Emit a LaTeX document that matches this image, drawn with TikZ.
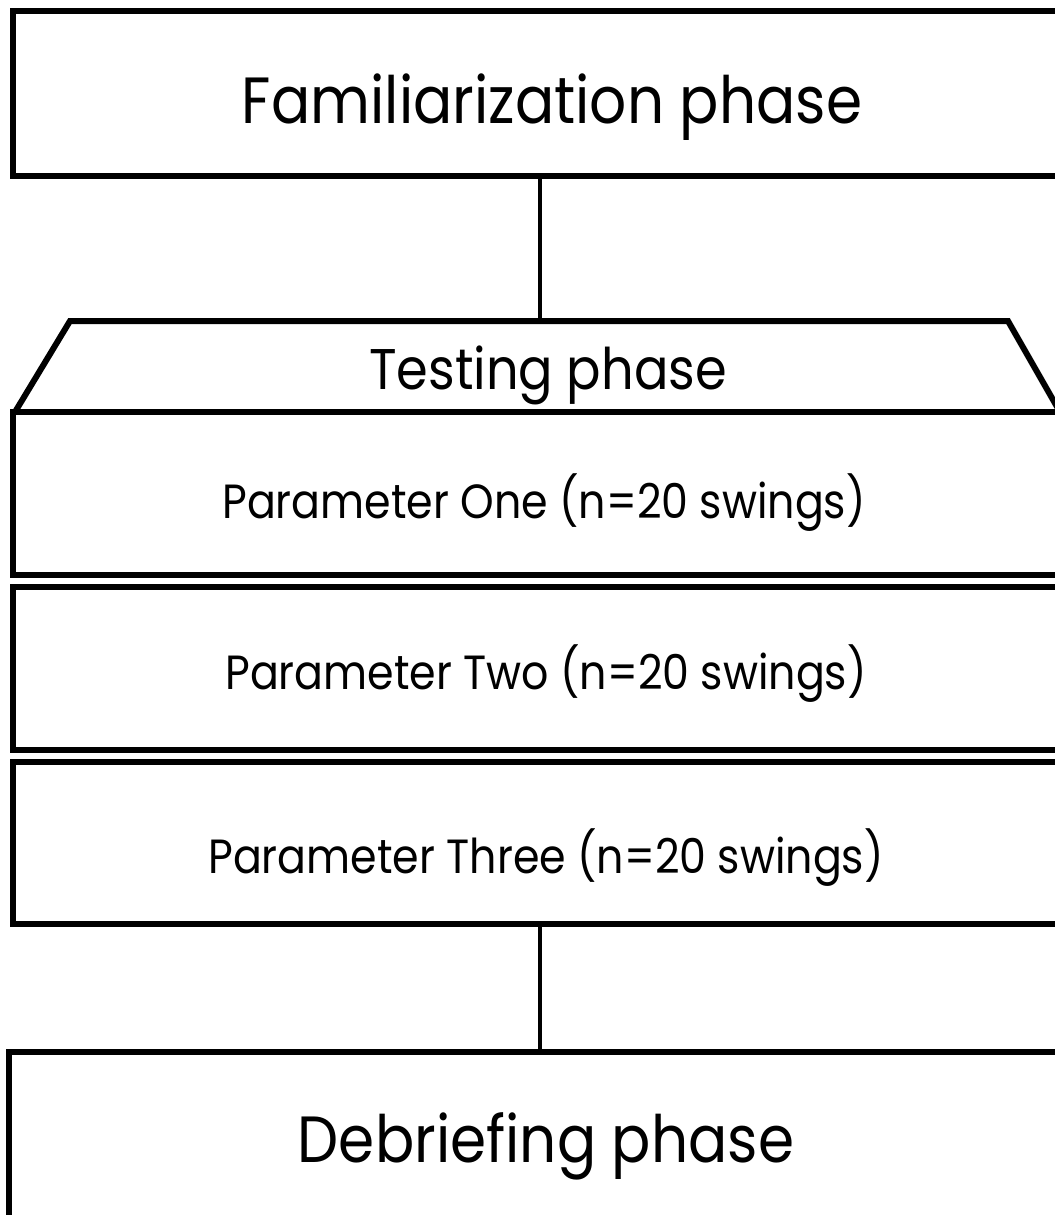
\documentclass[tikz,border=0pt]{standalone}
\usepackage{fontspec}
\setmainfont{Poppins}
\begin{document}
\begin{tikzpicture}[x=0.75pt,y=-0.75pt,
  phasebox/.style={draw, line width=4.5pt, line join=miter, inner sep=0pt},
  trapedge/.style={draw, line width=4.5pt, line join=miter},
  link/.style={line width=3pt},
  bigtitle/.style={anchor=base, inner sep=0pt, font=\fontsize{49}{55}\selectfont, xscale=0.89},
  midtitle/.style={anchor=base, inner sep=0pt, font=\fontsize{43}{48}\selectfont, xscale=0.89},
  paramtext/.style={anchor=base, inner sep=0pt, font=\fontsize{36}{40}\selectfont, xscale=0.89}]
\useasboundingbox (0,0) rectangle (1055,1215);
\clip (0,0) rectangle (1055,1215);

% familiarization phase
\node[phasebox, minimum width=804pt, minimum height=123.75pt] (fam) at (549,93.5) {};
\node[bigtitle] (famtext) at (552,123) {Familiarization phase};

% testing phase header (trapezoid sitting on the first parameter box)
\coordinate (tl) at (70,321);
\coordinate (tr) at (1008,321);
\coordinate (tp) at (540,321);
\draw[trapedge] (15,412) -- (tl) -- (tr) -- (1060,412);
\node[midtitle] (testtext) at (548,389) {Testing phase};

% parameter boxes
\node[phasebox, minimum width=804pt, minimum height=122.25pt] (p1) at (549,493) {};
\node[paramtext] (p1text) at (544,518) {Parameter One (n=20 swings)};
\node[phasebox, minimum width=804pt, minimum height=122.25pt] (p2) at (549,668.5) {};
\node[paramtext] (p2text) at (546,689) {Parameter Two (n=20 swings)};
\node[phasebox, minimum width=804pt, minimum height=121.5pt] (p3) at (549,843) {};
\node[paramtext] (p3text) at (546,873) {Parameter Three (n=20 swings)};

% debriefing phase
\node[phasebox, minimum width=807pt, minimum height=156pt] (deb) at (547,1156) {};
\node[bigtitle] (debtext) at (546,1162) {Debriefing phase};

% connectors
\draw[link] (tp |- fam.south) -- (tp);
\draw[link] (tp |- p3.south) -- (tp |- deb.north);
\end{tikzpicture}
\end{document}
